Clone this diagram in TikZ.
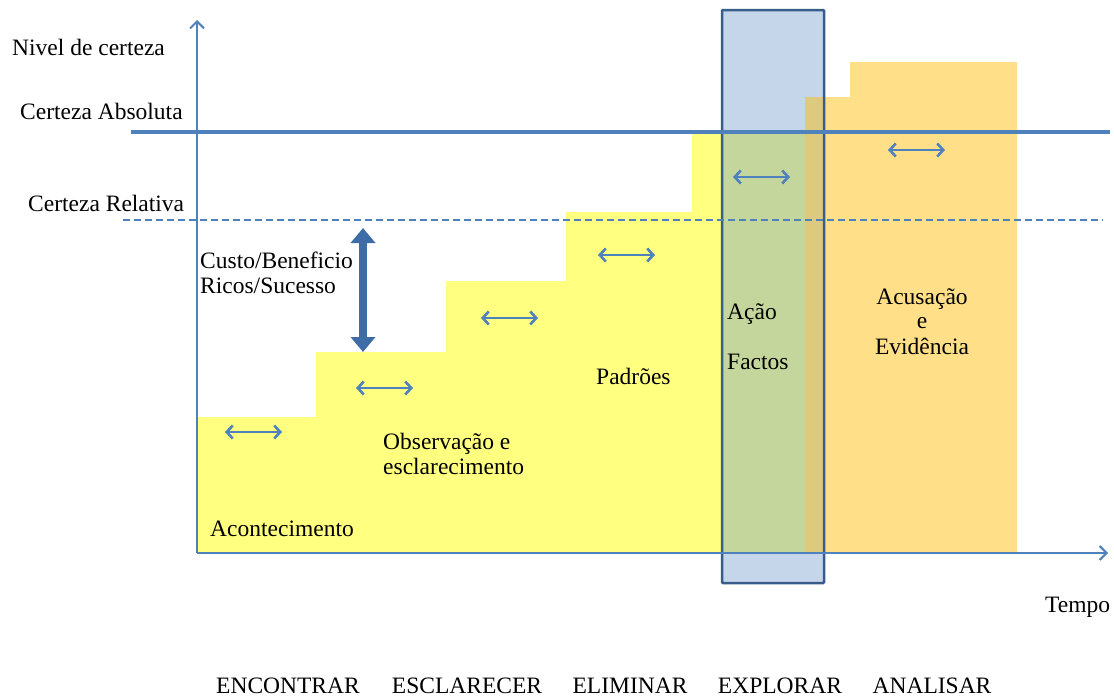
\documentclass[tikz,border=0pt]{standalone}
\usepackage{fontspec}
\setmainfont{Liberation Serif}
\usetikzlibrary{arrows.meta}
\definecolor{axisblue}{HTML}{4F81BD}
\definecolor{boxblue}{HTML}{385D8A}
\definecolor{darkarrow}{HTML}{3E6CA6}
\definecolor{stepyellow}{HTML}{FFFF80}
\definecolor{boxfill}{HTML}{C5D5EA}
\definecolor{boxgreen}{HTML}{C4D69B}
\definecolor{evidorange}{HTML}{FFDF88}
\definecolor{boxorange}{HTML}{DECA7C}
\tikzset{
  lbl/.style={font=\fontsize{23.5}{26}\selectfont, inner sep=0pt, anchor=base west},
  clbl/.style={lbl, anchor=base},
  span/.style={axisblue, line width=2.6pt, {Straight Barb[length=6pt,width=13pt]}-{Straight Barb[length=6pt,width=13pt]}},
  axisline/.style={axisblue, line width=2pt, -{Straight Barb[length=7pt,width=14pt]}}
}
\begin{document}
\begin{tikzpicture}[x=1pt, y=-1pt]
\useasboundingbox (0,0) rectangle (1114,699);
\def\xo{197};
\def\yo{553};
\def\yabs{132};
\def\yrel{220};

\coordinate (origin) at (\xo, \yo);
\coordinate (ytop) at (\xo, 20);
\coordinate (xend) at (1108, \yo);

\fill[stepyellow] (\xo, \yo) -- (\xo, 417) -- (316, 417) -- (316, 352) -- (446, 352) -- (446, 281) -- (566, 281) -- (566, 212) -- (692, 212) -- (692, \yabs) -- (805, \yabs) -- (805, \yo) -- cycle;

\fill[boxfill] (722, 10) rectangle (824, 583);
\fill[boxgreen] (722, \yabs) rectangle (805, \yo);

\fill[evidorange] (805, \yo) -- (805, 97) -- (850, 97) -- (850, 62) -- (1017, 62) -- (1017, \yo) -- cycle;
\fill[boxorange] (805, 97) rectangle (824, \yo);
\draw[boxblue, line width=2.5pt, rounded corners=1pt] (722, 10) rectangle (824, 583);

\draw[axisblue, line width=3.5pt] (131, \yabs) -- (1110, \yabs);
\draw[axisblue, line width=2pt, dash pattern=on 7pt off 4pt] (123, \yrel) -- (1103, \yrel);

\draw[axisline] (origin) -- (ytop);
\draw[axisline] (origin) -- (xend);

\foreach \xa/\ya in {225/432, 356/388, 481/318, 598/255, 733/177, 888/150}
  \draw[span] (\xa, \ya) -- ++(57, 0);

\draw[darkarrow, line width=8pt, {Triangle[length=15pt,width=24pt]}-{Triangle[length=15pt,width=24pt]}] (363, 228) -- (363, 352);

\node[lbl] (nivel) at (12, 55) {Nivel de certeza};
\node[lbl] (absoluta) at (20, 119) {Certeza Absoluta};
\node[lbl] (relativa) at (28, 211) {Certeza Relativa};
\node[lbl] (custo) at (200, 268) {Custo/Beneficio};
\node[lbl] (ricos) at (200, 293) {Ricos/Sucesso};
\node[lbl] (obs) at (383, 449) {Observação e};
\node[lbl] (escl) at (383, 474) {esclarecimento};
\node[lbl] (acont) at (210, 536) {Acontecimento};
\node[lbl] (padroes) at (596, 384) {Padrões};
\node[lbl] (acao) at (727, 319) {Ação};
\node[lbl] (factos) at (727, 369) {Factos};
\node[clbl] (acus) at (922, 304) {Acusação};
\node[clbl] (e) at (922, 328) {e};
\node[clbl] (evid) at (922, 354) {Evidência};
\node[lbl] (tempo) at (1045, 612) {Tempo};

\node[clbl] (encontrar) at (288, 693) {ENCONTRAR};
\node[clbl] (esclarecer) at (467, 693) {ESCLARECER};
\node[clbl] (eliminar) at (630, 693) {ELIMINAR};
\node[clbl] (explorar) at (780, 693) {EXPLORAR};
\node[clbl] (analisar) at (932, 693) {ANALISAR};
\end{tikzpicture}
\end{document}
